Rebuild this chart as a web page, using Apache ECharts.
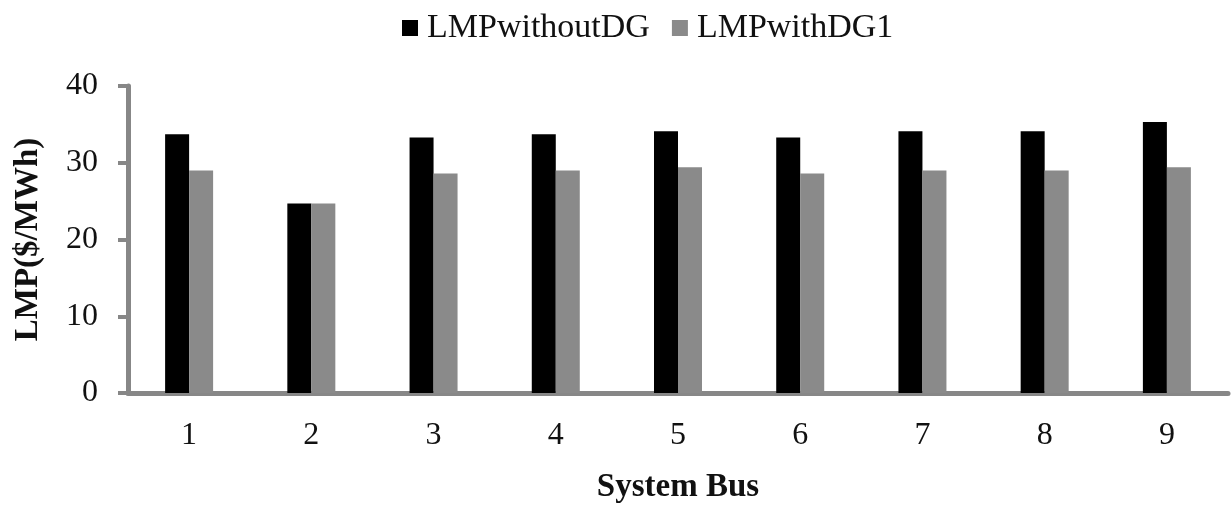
<!DOCTYPE html>
<html>
<head>
<meta charset="utf-8">
<script src="https://cdn.jsdelivr.net/npm/echarts@6/dist/echarts.min.js"></script>
<style>
html,body{margin:0;padding:0;background:#fff;}
#chart{width:1231px;height:510px;}
</style>
</head>
<body>
<div id="chart"></div>
<script>
const categories = ['1','2','3','4','5','6','7','8','9'];
const seriesNames = ['LMPwithoutDG','LMPwithDG1'];
const lmpWithoutDG = [33.7, 24.7, 33.3, 33.7, 34.1, 33.3, 34.1, 34.1, 35.3];
const lmpWithDG1 = [29.0, 24.7, 28.6, 29.0, 29.4, 28.6, 29.0, 29.0, 29.4];
const yTicks = {min: 0, max: 40, interval: 10};
const xAxisTitle = 'System Bus';
const yAxisTitle = 'LMP($/MWh)';

const FONT = '"Liberation Serif", "Times New Roman", serif';
const AXIS_GRAY = '#878787';

const chart = echarts.init(document.getElementById('chart'), null, {renderer: 'canvas'});
chart.setOption({
  animation: false,
  backgroundColor: '#fff',
  legend: {
    data: seriesNames,
    left: 397,
    top: 6,
    icon: 'rect',
    itemWidth: 16,
    itemHeight: 16,
    itemGap: 22,
    textStyle: {fontFamily: FONT, fontSize: 34, color: '#111', padding: [0, 0, 0, 4]}
  },
  grid: {left: 128, right: 3, top: 86, bottom: 117, containLabel: false},
  xAxis: {
    type: 'category',
    data: categories,
    name: xAxisTitle,
    nameLocation: 'middle',
    nameGap: 78,
    nameTextStyle: {fontFamily: FONT, fontSize: 33, fontWeight: 'bold', color: '#111'},
    axisLine: {show: true, lineStyle: {color: AXIS_GRAY, width: 5}},
    axisTick: {show: false},
    axisLabel: {fontFamily: FONT, fontSize: 32, color: '#111', margin: 27}
  },
  yAxis: {
    type: 'value',
    min: yTicks.min,
    max: yTicks.max,
    interval: yTicks.interval,
    name: yAxisTitle,
    nameLocation: 'middle',
    nameGap: 83,
    nameTextStyle: {fontFamily: FONT, fontSize: 33, fontWeight: 'bold', color: '#111'},
    axisLine: {show: true, lineStyle: {color: AXIS_GRAY, width: 5}},
    axisTick: {show: true, length: 10, lineStyle: {color: AXIS_GRAY, width: 4}},
    axisLabel: {fontFamily: FONT, fontSize: 32, color: '#111', margin: 30},
    splitLine: {show: false}
  },
  series: [
    {
      name: seriesNames[0],
      type: 'bar',
      data: lmpWithoutDG,
      barWidth: 24,
      barGap: '0%',
      itemStyle: {color: '#000'}
    },
    {
      name: seriesNames[1],
      type: 'bar',
      data: lmpWithDG1,
      barWidth: 24,
      barGap: '0%',
      itemStyle: {color: '#8a8a8a'}
    }
  ]
});
</script>
</body>
</html>
